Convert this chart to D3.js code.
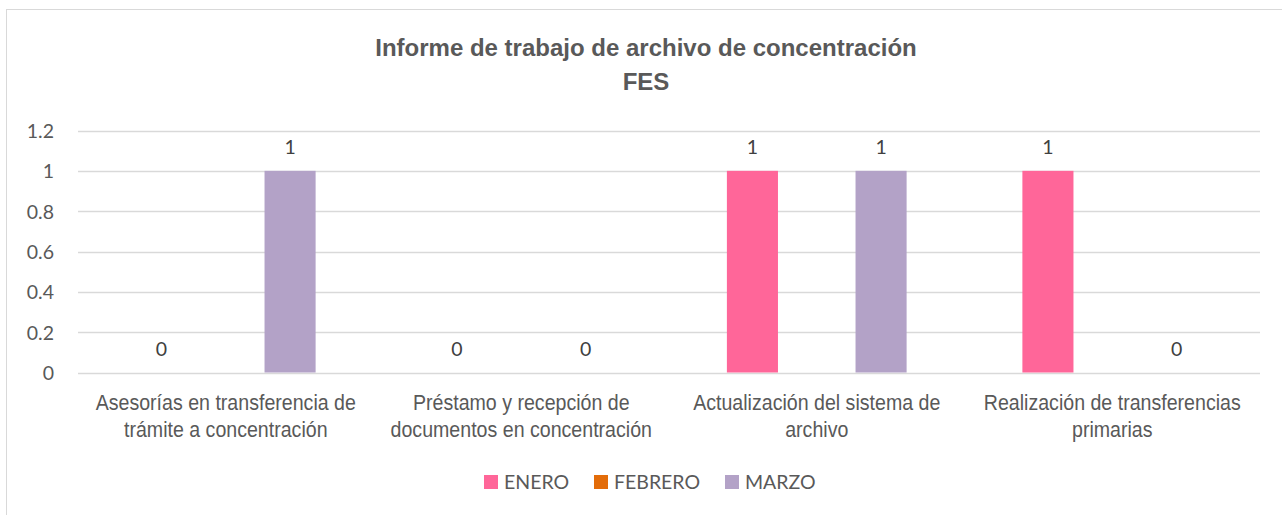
<!DOCTYPE html>
<html><head><meta charset="utf-8">
<script src="https://cdn.jsdelivr.net/npm/d3@7"></script>
<style>
html,body{margin:0;padding:0;background:#fff;}
svg{display:block;}
</style></head>
<body>
<svg id="chart" width="1282" height="515"></svg>
<script>
const categories = [
  ["Asesorías en transferencia de", "trámite a concentración"],
  ["Préstamo y recepción de", "documentos en concentración"],
  ["Actualización del sistema de", "archivo"],
  ["Realización de transferencias", "primarias"]
];
const seriesNames = ["ENERO", "FEBRERO", "MARZO"];
const seriesColors = ["#FF6699", "#E36C09", "#B3A2C7"];
const enero = [0, 0, 1, 1];
const febrero = [null, null, null, null];
const marzo = [1, 0, 1, 0];
const yTicks = [0, 0.2, 0.4, 0.6, 0.8, 1, 1.2];
const titleLines = ["Informe de trabajo de archivo de concentración", "FES"];

(function () {
const seriesValues = [enero, febrero, marzo];
const svg = d3.select("#chart");
const arial = "'Liberation Sans',Arial,sans-serif";
const calibri = "Lato,'Open Sans',sans-serif";

svg.append("rect").attr("x",6.5).attr("y",9.5).attr("width",1300).attr("height",520)
  .attr("fill","#fff").attr("stroke","#D9D9D9");

const pLeft = 78, pRight = 1260, pTop = 130.5, pBottom = 372.5;
const x0 = d3.scaleBand().domain(d3.range(categories.length)).range([pLeft, pRight]).padding(0);
const x1 = d3.scaleBand().domain(d3.range(seriesNames.length)).range([0, x0.bandwidth()])
  .paddingInner(0.206).paddingOuter(0.9);
const y = d3.scaleLinear().domain([0, 1.2]).range([pBottom, pTop]);

svg.append("g").selectAll("line").data(yTicks).join("line")
  .attr("x1", pLeft).attr("x2", pRight)
  .attr("y1", d => Math.round(y(d)) + 0.5).attr("y2", d => Math.round(y(d)) + 0.5)
  .attr("stroke", "#D9D9D9").attr("stroke-width", 1.5);

const yAxis = d3.axisLeft(y).tickValues(yTicks).tickSize(0).tickPadding(0).tickFormat(d3.format("~g"));
const ga = svg.append("g").attr("transform", `translate(54,0)`).call(yAxis);
ga.select(".domain").remove();
ga.selectAll("text").attr("font-family", calibri).attr("font-size", 19.5).attr("fill", "#595959")
  .attr("dy", "0.36em");

const flat = [];
seriesValues.forEach((vals, s) => vals.forEach((v, c) => flat.push({s, c, v})));
svg.append("g").selectAll("rect").data(flat.filter(d => d.v != null && d.v > 0)).join("rect")
  .attr("x", d => x0(d.c) + x1(d.s))
  .attr("width", x1.bandwidth())
  .attr("y", d => y(d.v))
  .attr("height", d => y(0) - y(d.v))
  .attr("fill", d => seriesColors[d.s]);

svg.append("g").selectAll("text").data(flat.filter(d => d.v != null)).join("text")
  .attr("x", d => x0(d.c) + x1(d.s) + x1.bandwidth() / 2)
  .attr("y", d => y(d.v) - 17)
  .attr("text-anchor", "middle")
  .attr("font-family", calibri).attr("font-size", 19.5).attr("fill", "#404040")
  .text(d => d3.format("~g")(d.v));

const gc = svg.append("g");
categories.forEach((lines, i) => {
  lines.forEach((ln, j) => {
    const by = 410 + j * 27;
    gc.append("text").attr("text-anchor", "middle")
      .attr("font-family", arial).attr("font-size", 19.6).attr("fill", "#595959")
      .attr("transform", `translate(${x0(i) + x0.bandwidth() / 2},${by}) scale(1,1.12)`)
      .text(ln);
  });
});

const tt = svg.append("text").attr("text-anchor", "middle")
  .attr("font-family", arial).attr("font-weight", "bold").attr("font-size", 24).attr("fill", "#595959");
titleLines.forEach((ln, j) => {
  tt.append("tspan").attr("x", 646).attr("y", 56 + j * 34).text(ln);
});

const legendX = [484, 594, 725];
const lg = svg.append("g");
seriesNames.forEach((n, i) => {
  lg.append("rect").attr("x", legendX[i]).attr("y", 475).attr("width", 14).attr("height", 14)
    .attr("fill", seriesColors[i]);
  lg.append("text").attr("x", legendX[i] + 20).attr("y", 489)
    .attr("font-family", calibri).attr("font-size", 19.5).attr("fill", "#595959").text(n);
});
})();
</script>
</body></html>
